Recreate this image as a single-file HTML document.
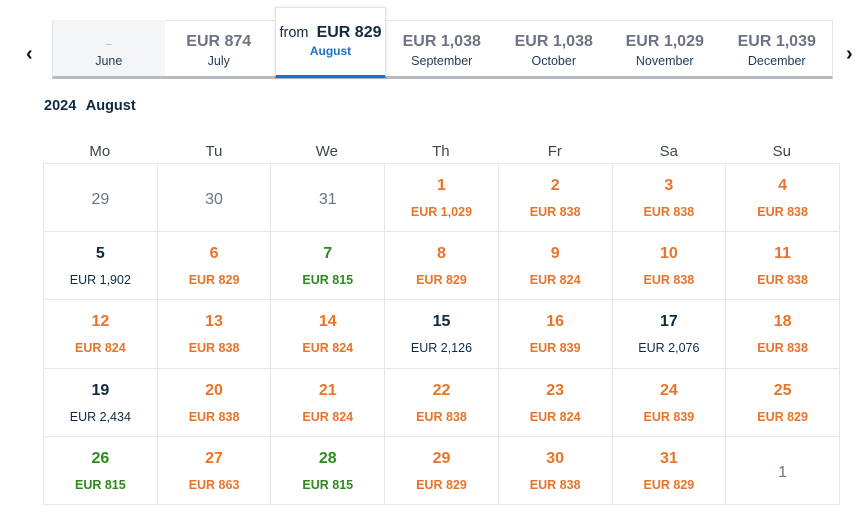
<!DOCTYPE html>
<html><head><meta charset="utf-8"><style>
*{margin:0;padding:0;box-sizing:border-box}
body{width:856px;height:519px;background:#fff;font-family:"Liberation Sans",sans-serif;position:relative;overflow:hidden;color:#0f2a44}
.bar{position:absolute;left:52px;top:20px;width:781px;height:59px;border:1px solid #e3e5e8;border-bottom:3px solid #b8bcc2;background:#fff}
.tab{position:absolute;top:20px;height:56px;width:111.5px;text-align:center}
.tab .p{font-weight:bold;font-size:16px;color:#6b7480;margin-top:13px;height:20px}
.tab .m{font-size:12.5px;color:#1e3a55;margin-top:1px}
.june{background:#f4f5f7}
.aug{position:absolute;left:275px;top:7px;width:111px;height:71px;background:#fff;border:1px solid #e3e5e8;border-bottom:3px solid #1a73c8;box-shadow:0 0 3px rgba(0,0,0,.12);text-align:center}
.arrow{position:absolute;top:43px;font-size:20px;font-weight:bold;color:#111}
.title{position:absolute;left:44px;top:98px;font-size:14.5px;font-weight:bold;color:#0f2a44;word-spacing:6px}
.dow{position:absolute;top:143px;width:113.7px;text-align:center;font-size:15px;color:#3d4650}
table{position:absolute;left:43px;top:163px;width:797px;border-collapse:collapse;table-layout:fixed}
td{border:1px solid #e6e6e6;height:68.2px;text-align:center;vertical-align:top;padding-top:13px}
td b{display:block;font-size:16px;height:20px}
td i{display:block;font-style:normal;font-size:12.5px;font-weight:bold;margin-top:8px}
.o{color:#e8742a}.g{color:#2e8b1e}.n{color:#0f2a44}.n i{font-weight:normal}
.x b{font-weight:normal;color:#6b7480;margin-top:14px}
</style></head><body>
<div class="arrow" style="left:26px">&#8249;</div>
<div class="arrow" style="left:846px">&#8250;</div>
<div class="bar"></div>
<div class="tab june" style="left:53px;height:56px"><div class="p" style="color:#aaa;font-weight:normal;font-size:10px;padding-top:6px">–</div><div class="m">June</div></div>
<div class="tab" style="left:163px"><div class="p">EUR 874</div><div class="m">July</div></div>
<div class="aug"><div style="margin-top:16px;font-size:14.5px;color:#0f2a44">from&nbsp; <b style="font-size:16px">EUR 829</b></div><div style="font-size:12px;font-weight:bold;color:#1a73c8;margin-top:2px">August</div></div>
<div class="tab" style="left:386px"><div class="p">EUR 1,038</div><div class="m">September</div></div>
<div class="tab" style="left:498px"><div class="p">EUR 1,038</div><div class="m">October</div></div>
<div class="tab" style="left:609px"><div class="p">EUR 1,029</div><div class="m">November</div></div>
<div class="tab" style="left:721px"><div class="p">EUR 1,039</div><div class="m">December</div></div>
<div class="title">2024 August</div>
<div class="dow" style="left:43px">Mo</div><div class="dow" style="left:157px">Tu</div><div class="dow" style="left:270px">We</div><div class="dow" style="left:384px">Th</div><div class="dow" style="left:498px">Fr</div><div class="dow" style="left:612px">Sa</div><div class="dow" style="left:725px">Su</div>
<table>
<tr><td class="x"><b>29</b></td><td class="x"><b>30</b></td><td class="x"><b>31</b></td><td class="o"><b>1</b><i>EUR 1,029</i></td><td class="o"><b>2</b><i>EUR 838</i></td><td class="o"><b>3</b><i>EUR 838</i></td><td class="o"><b>4</b><i>EUR 838</i></td></tr>
<tr><td class="n"><b>5</b><i>EUR 1,902</i></td><td class="o"><b>6</b><i>EUR 829</i></td><td class="g"><b>7</b><i>EUR 815</i></td><td class="o"><b>8</b><i>EUR 829</i></td><td class="o"><b>9</b><i>EUR 824</i></td><td class="o"><b>10</b><i>EUR 838</i></td><td class="o"><b>11</b><i>EUR 838</i></td></tr>
<tr><td class="o"><b>12</b><i>EUR 824</i></td><td class="o"><b>13</b><i>EUR 838</i></td><td class="o"><b>14</b><i>EUR 824</i></td><td class="n"><b>15</b><i>EUR 2,126</i></td><td class="o"><b>16</b><i>EUR 839</i></td><td class="n"><b>17</b><i>EUR 2,076</i></td><td class="o"><b>18</b><i>EUR 838</i></td></tr>
<tr><td class="n"><b>19</b><i>EUR 2,434</i></td><td class="o"><b>20</b><i>EUR 838</i></td><td class="o"><b>21</b><i>EUR 824</i></td><td class="o"><b>22</b><i>EUR 838</i></td><td class="o"><b>23</b><i>EUR 824</i></td><td class="o"><b>24</b><i>EUR 839</i></td><td class="o"><b>25</b><i>EUR 829</i></td></tr>
<tr><td class="g"><b>26</b><i>EUR 815</i></td><td class="o"><b>27</b><i>EUR 863</i></td><td class="g"><b>28</b><i>EUR 815</i></td><td class="o"><b>29</b><i>EUR 829</i></td><td class="o"><b>30</b><i>EUR 838</i></td><td class="o"><b>31</b><i>EUR 829</i></td><td class="x"><b>1</b></td></tr>
</table>
</body></html>
